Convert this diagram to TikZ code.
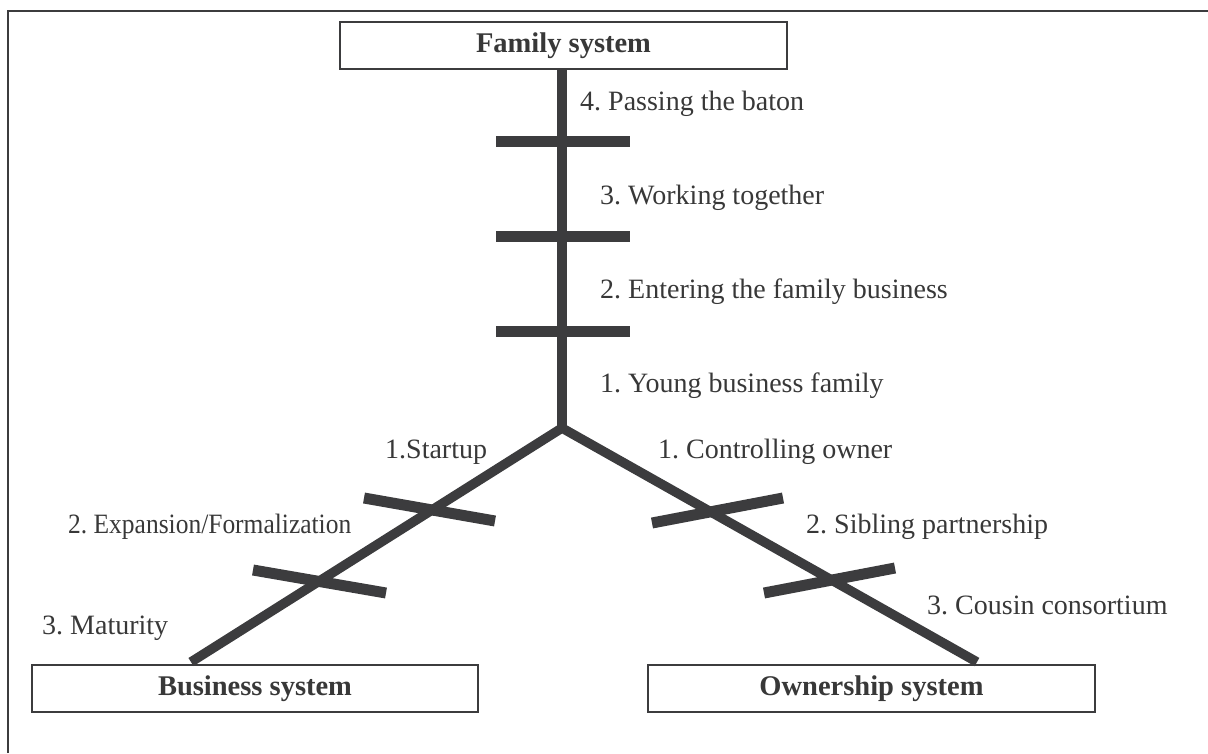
\documentclass[tikz,border=0pt]{standalone}
\usepackage{fontspec}
\usepackage{graphicx}
\setmainfont{Liberation Serif}
\definecolor{ink}{HTML}{3C3C3E}
\definecolor{txt}{HTML}{383838}
\begin{document}
\frenchspacing
\begin{tikzpicture}[x=1pt,y=-1pt,
  sysbox/.style={draw=ink,line width=2.2pt,fill=white,inner sep=0pt,minimum height=47pt,
    font=\fontsize{28.5}{34}\selectfont\bfseries,text=txt},
  lbl/.style={anchor=base west,inner sep=0pt,font=\fontsize{28}{33}\selectfont\frenchspacing,text=txt},
  stem/.style={draw=ink,line width=9.5pt,line cap=butt,line join=miter},
  tick/.style={draw=ink,line width=11pt,line cap=butt}]
\useasboundingbox (0,0) rectangle (1208,753);
% outer frame (only top and left visible)
\draw[ink,line width=2.2pt] (8,753) -- (8,11) -- (1208,11);
% system boxes
\node[sysbox,minimum width=447pt] (fam) at (563.5,45.5) {Family system};
\node[sysbox,minimum width=446pt] (bus) at (255,688.5) {Business system};
\node[sysbox,minimum width=447pt] (own) at (871.5,688.5) {Ownership system};
% junction and branch ends
\coordinate (jn) at (562,428);
\coordinate (famstem) at (562,69);
\coordinate (busend) at (191,662);
\coordinate (ownend) at (977,662);
\draw[stem] (famstem) -- (jn);
\draw[stem] (busend) -- (jn) -- (ownend);
% ticks on family stem
\foreach \y/\n in {141/f4,236/f3,331/f2}{
  \coordinate (\n a) at (496,\y);
  \coordinate (\n b) at (630,\y);
  \draw[tick] (\n a) -- (\n b);
}
% ticks on business branch
\coordinate (b1a) at (364,498); \coordinate (b1b) at (495,521);
\coordinate (b2a) at (253,570); \coordinate (b2b) at (386,593);
\draw[tick] (b1a) -- (b1b);
\draw[tick] (b2a) -- (b2b);
% ticks on ownership branch
\coordinate (o1a) at (652,523); \coordinate (o1b) at (783,498);
\coordinate (o2a) at (764,593); \coordinate (o2b) at (895,568);
\draw[tick] (o1a) -- (o1b);
\draw[tick] (o2a) -- (o2b);
% labels
\node[lbl] (l4) at (580,110) {4. Passing the baton};
\node[lbl] (l3) at (600,204) {3. Working together};
\node[lbl] (l2) at (600,298) {2. Entering the family business};
\node[lbl] (l1) at (600,392) {1. Young business family};
\node[lbl] (s1) at (385,458) {1.Startup};
\node[lbl] (s2) at (68,533) {\scalebox{0.91}[1]{2. Expansion/Formalization}};
\node[lbl] (s3) at (42,634) {3. Maturity};
\node[lbl] (c1) at (658,458) {1. Controlling owner};
\node[lbl] (c2) at (806,533) {2. Sibling partnership};
\node[lbl] (c3) at (927,614) {3. Cousin consortium};
\end{tikzpicture}
\end{document}
